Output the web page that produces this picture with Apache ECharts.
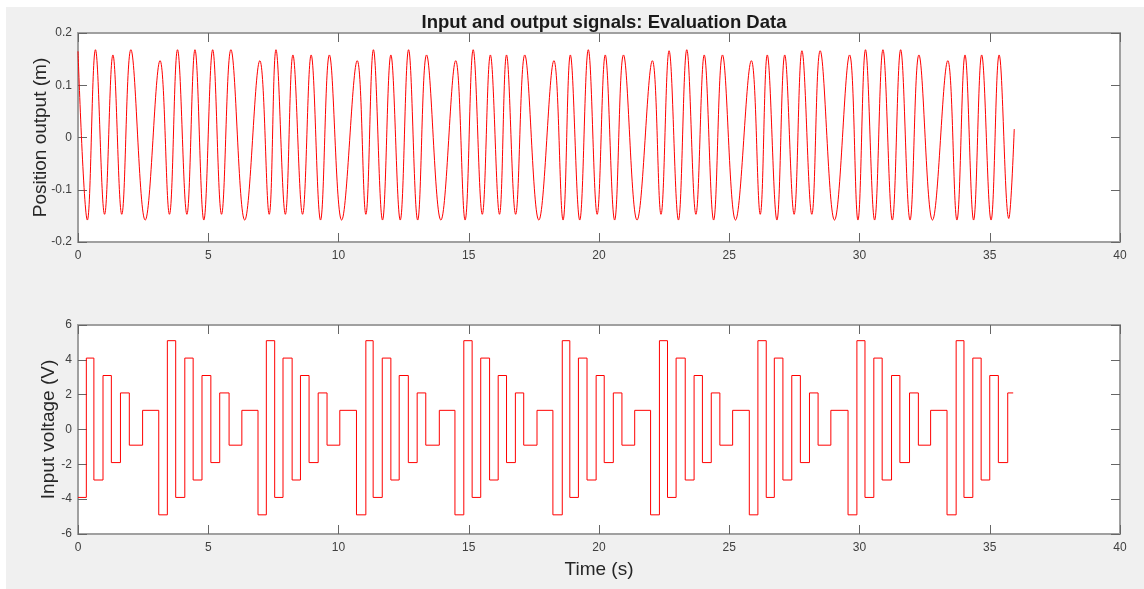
<!DOCTYPE html>
<html>
<head>
<meta charset="utf-8">
<script src="https://cdn.jsdelivr.net/npm/echarts/dist/echarts.min.js"></script>
<style>
  html, body { margin: 0; padding: 0; background: #ffffff; }
  #wrap { position: relative; width: 1144px; height: 589px; background: #ffffff; overflow: hidden; }
  #chart { position: absolute; left: 6px; top: 7px; width: 1138px; height: 582px; }
</style>
</head>
<body>
<div id="wrap"><div id="chart"></div></div>
<script>
// ---- Data ----
const titleText = 'Input and output signals: Evaluation Data';
const xTicks = [0, 5, 10, 15, 20, 25, 30, 35, 40];
const posTicks = [-0.2, -0.1, 0, 0.1, 0.2];
const voltTicks = [-6, -4, -2, 0, 2, 4, 6];

// Position output: times (s) of the peaks / troughs and their values (m)
const outTime = [0,0.36,0.67,1.02,1.34,1.68,2.03,2.58,3.15,3.51,
  3.82,4.18,4.49,4.83,5.17,5.51,5.87,6.40,6.98,7.34,
  7.60,7.96,8.25,8.62,8.95,9.31,9.65,10.12,10.72,11.05,
  11.34,11.69,12.01,12.37,12.69,13.04,13.38,13.93,14.50,14.86,
  15.17,15.52,15.83,16.18,16.45,16.80,17.15,17.69,18.27,18.62,
  18.90,19.26,19.59,19.93,20.24,20.60,20.94,21.46,22.05,22.38,
  22.69,23.05,23.37,23.72,24.04,24.40,24.74,25.24,25.85,26.19,
  26.46,26.83,27.13,27.49,27.79,28.17,28.49,29.04,29.62,29.94,
  30.23,30.58,30.90,31.26,31.58,31.94,32.28,32.80,33.39,33.74,
  34.05,34.38,34.69,35.05,35.36,35.73,35.94];
const outVal = [0.165,-0.158,0.168,-0.147,0.158,-0.147,0.168,-0.158,0.147,-0.147,
  0.168,-0.147,0.168,-0.158,0.168,-0.147,0.168,-0.158,0.147,-0.147,
  0.168,-0.147,0.158,-0.147,0.158,-0.158,0.158,-0.158,0.147,-0.147,
  0.168,-0.158,0.158,-0.158,0.168,-0.158,0.158,-0.158,0.147,-0.158,
  0.168,-0.147,0.158,-0.147,0.158,-0.147,0.158,-0.158,0.147,-0.158,
  0.158,-0.158,0.168,-0.147,0.158,-0.158,0.158,-0.158,0.147,-0.147,
  0.166,-0.158,0.168,-0.147,0.158,-0.158,0.158,-0.158,0.147,-0.147,
  0.158,-0.158,0.158,-0.147,0.166,-0.147,0.166,-0.158,0.158,-0.158,
  0.168,-0.158,0.168,-0.158,0.168,-0.158,0.158,-0.158,0.147,-0.158,
  0.158,-0.158,0.158,-0.158,0.158,-0.155,0.016];

// Input voltage: start time (s) of each step and its level (V); last entry is the end
const inTime = [0,0.32,0.61,0.96,1.28,1.63,1.97,2.48,3.10,3.43,
  3.75,4.10,4.42,4.76,5.10,5.44,5.80,6.29,6.91,7.23,
  7.55,7.87,8.22,8.54,8.87,9.22,9.56,10.05,10.69,11.05,
  11.33,11.68,12.01,12.33,12.68,13.02,13.35,13.87,14.47,14.81,
  15.13,15.46,15.80,16.13,16.45,16.79,17.11,17.62,18.23,18.59,
  18.88,19.21,19.54,19.89,20.20,20.55,20.88,21.37,21.98,22.32,
  22.63,22.96,23.31,23.65,23.97,24.31,24.64,25.13,25.77,26.10,
  26.42,26.73,27.06,27.40,27.73,28.08,28.41,28.90,29.56,29.90,
  30.21,30.55,30.87,31.23,31.55,31.92,32.26,32.73,33.36,33.71,
  34.01,34.35,34.67,35.00,35.33,35.69,35.90];
const inVal = [-3.9,4.1,-2.9,3.1,-1.9,2.1,-0.9,1.1,-4.9,5.1,
  -3.9,4.1,-2.9,3.1,-1.9,2.1,-0.9,1.1,-4.9,5.1,
  -3.9,4.1,-2.9,3.1,-1.9,2.1,-0.9,1.1,-4.9,5.1,
  -3.9,4.1,-2.9,3.1,-1.9,2.1,-0.9,1.1,-4.9,5.1,
  -3.9,4.1,-2.9,3.1,-1.9,2.1,-0.9,1.1,-4.9,5.1,
  -3.9,4.1,-2.9,3.1,-1.9,2.1,-0.9,1.1,-4.9,5.1,
  -3.9,4.1,-2.9,3.1,-1.9,2.1,-0.9,1.1,-4.9,5.1,
  -3.9,4.1,-2.9,3.1,-1.9,2.1,-0.9,1.1,-4.9,5.1,
  -3.9,4.1,-2.9,3.1,-1.9,2.1,-0.9,1.1,-4.9,5.1,
  -3.9,4.1,-2.9,3.1,-1.9,2.1,2.1];

// ---- Chart ----
const FONT = '"Liberation Sans", Arial, Helvetica, sans-serif';
const labelColor = '#404040';
const tickColor = '#666666';
const boxColor = '#a0a0a0';

const outData = outTime.map((t, i) => [t, outVal[i]]);
const inData = inTime.map((t, i) => [t, inVal[i]]);

function xAx(grid, pos, showLabels, name) {
  return {
    type: 'value', gridIndex: grid, position: pos,
    min: xTicks[0], max: xTicks[xTicks.length - 1], interval: xTicks[1] - xTicks[0],
    axisLine: { show: false, onZero: false },
    axisTick: { show: true, inside: true, length: 9, lineStyle: { color: tickColor, width: 1 } },
    axisLabel: { show: showLabels, color: labelColor, fontSize: 12, fontFamily: FONT, margin: 8 },
    splitLine: { show: false },
    name: name || '', nameLocation: 'middle', nameGap: 26, nameMoveOverlap: false,
    nameTextStyle: { color: '#262626', fontSize: 19, fontFamily: FONT }
  };
}
function yAx(grid, pos, ticks, showLabels, name, gap) {
  return {
    type: 'value', gridIndex: grid, position: pos,
    min: ticks[0], max: ticks[ticks.length - 1], interval: ticks[1] - ticks[0],
    axisLine: { show: false, onZero: false },
    axisTick: { show: true, inside: true, length: 9, lineStyle: { color: tickColor, width: 1 } },
    axisLabel: { show: showLabels, color: labelColor, fontSize: 12, fontFamily: FONT, margin: 6 },
    splitLine: { show: false },
    name: name || '', nameLocation: 'middle', nameGap: gap || 20, nameRotate: 90, nameMoveOverlap: false,
    nameTextStyle: { color: '#262626', fontSize: 19, fontFamily: FONT }
  };
}

const chart = echarts.init(document.getElementById('chart'), null, { renderer: 'canvas' });
chart.setOption({
  backgroundColor: '#f0f0f0',
  animation: false,
  title: {
    text: titleText, left: 593, top: 1, textAlign: 'center',
    textStyle: { color: '#1a1a1a', fontSize: 18.5, fontWeight: 'bold', fontFamily: FONT }
  },
  grid: [
    { left: 72, top: 26, width: 1042, height: 209, show: true, backgroundColor: '#ffffff', borderColor: boxColor, borderWidth: 2, containLabel: false },
    { left: 72, top: 318, width: 1042, height: 209, show: true, backgroundColor: '#ffffff', borderColor: boxColor, borderWidth: 2, containLabel: false }
  ],
  xAxis: [
    xAx(0, 'bottom', true),
    xAx(0, 'top', false),
    xAx(1, 'bottom', true, 'Time (s)'),
    xAx(1, 'top', false)
  ],
  yAxis: [
    yAx(0, 'left', posTicks, true, 'Position output (m)', 28),
    yAx(0, 'right', posTicks, false),
    yAx(1, 'left', voltTicks, true, 'Input voltage (V)', 20),
    yAx(1, 'right', voltTicks, false)
  ],
  series: [
    {
      type: 'line', xAxisIndex: 0, yAxisIndex: 0, data: outData,
      smooth: 0.4, showSymbol: false, symbol: 'none',
      lineStyle: { color: '#ff0000', width: 1 }
    },
    {
      type: 'line', xAxisIndex: 2, yAxisIndex: 2, data: inData,
      step: 'end', showSymbol: false, symbol: 'none',
      lineStyle: { color: '#ff0000', width: 1 }
    }
  ]
});
</script>
</body>
</html>
